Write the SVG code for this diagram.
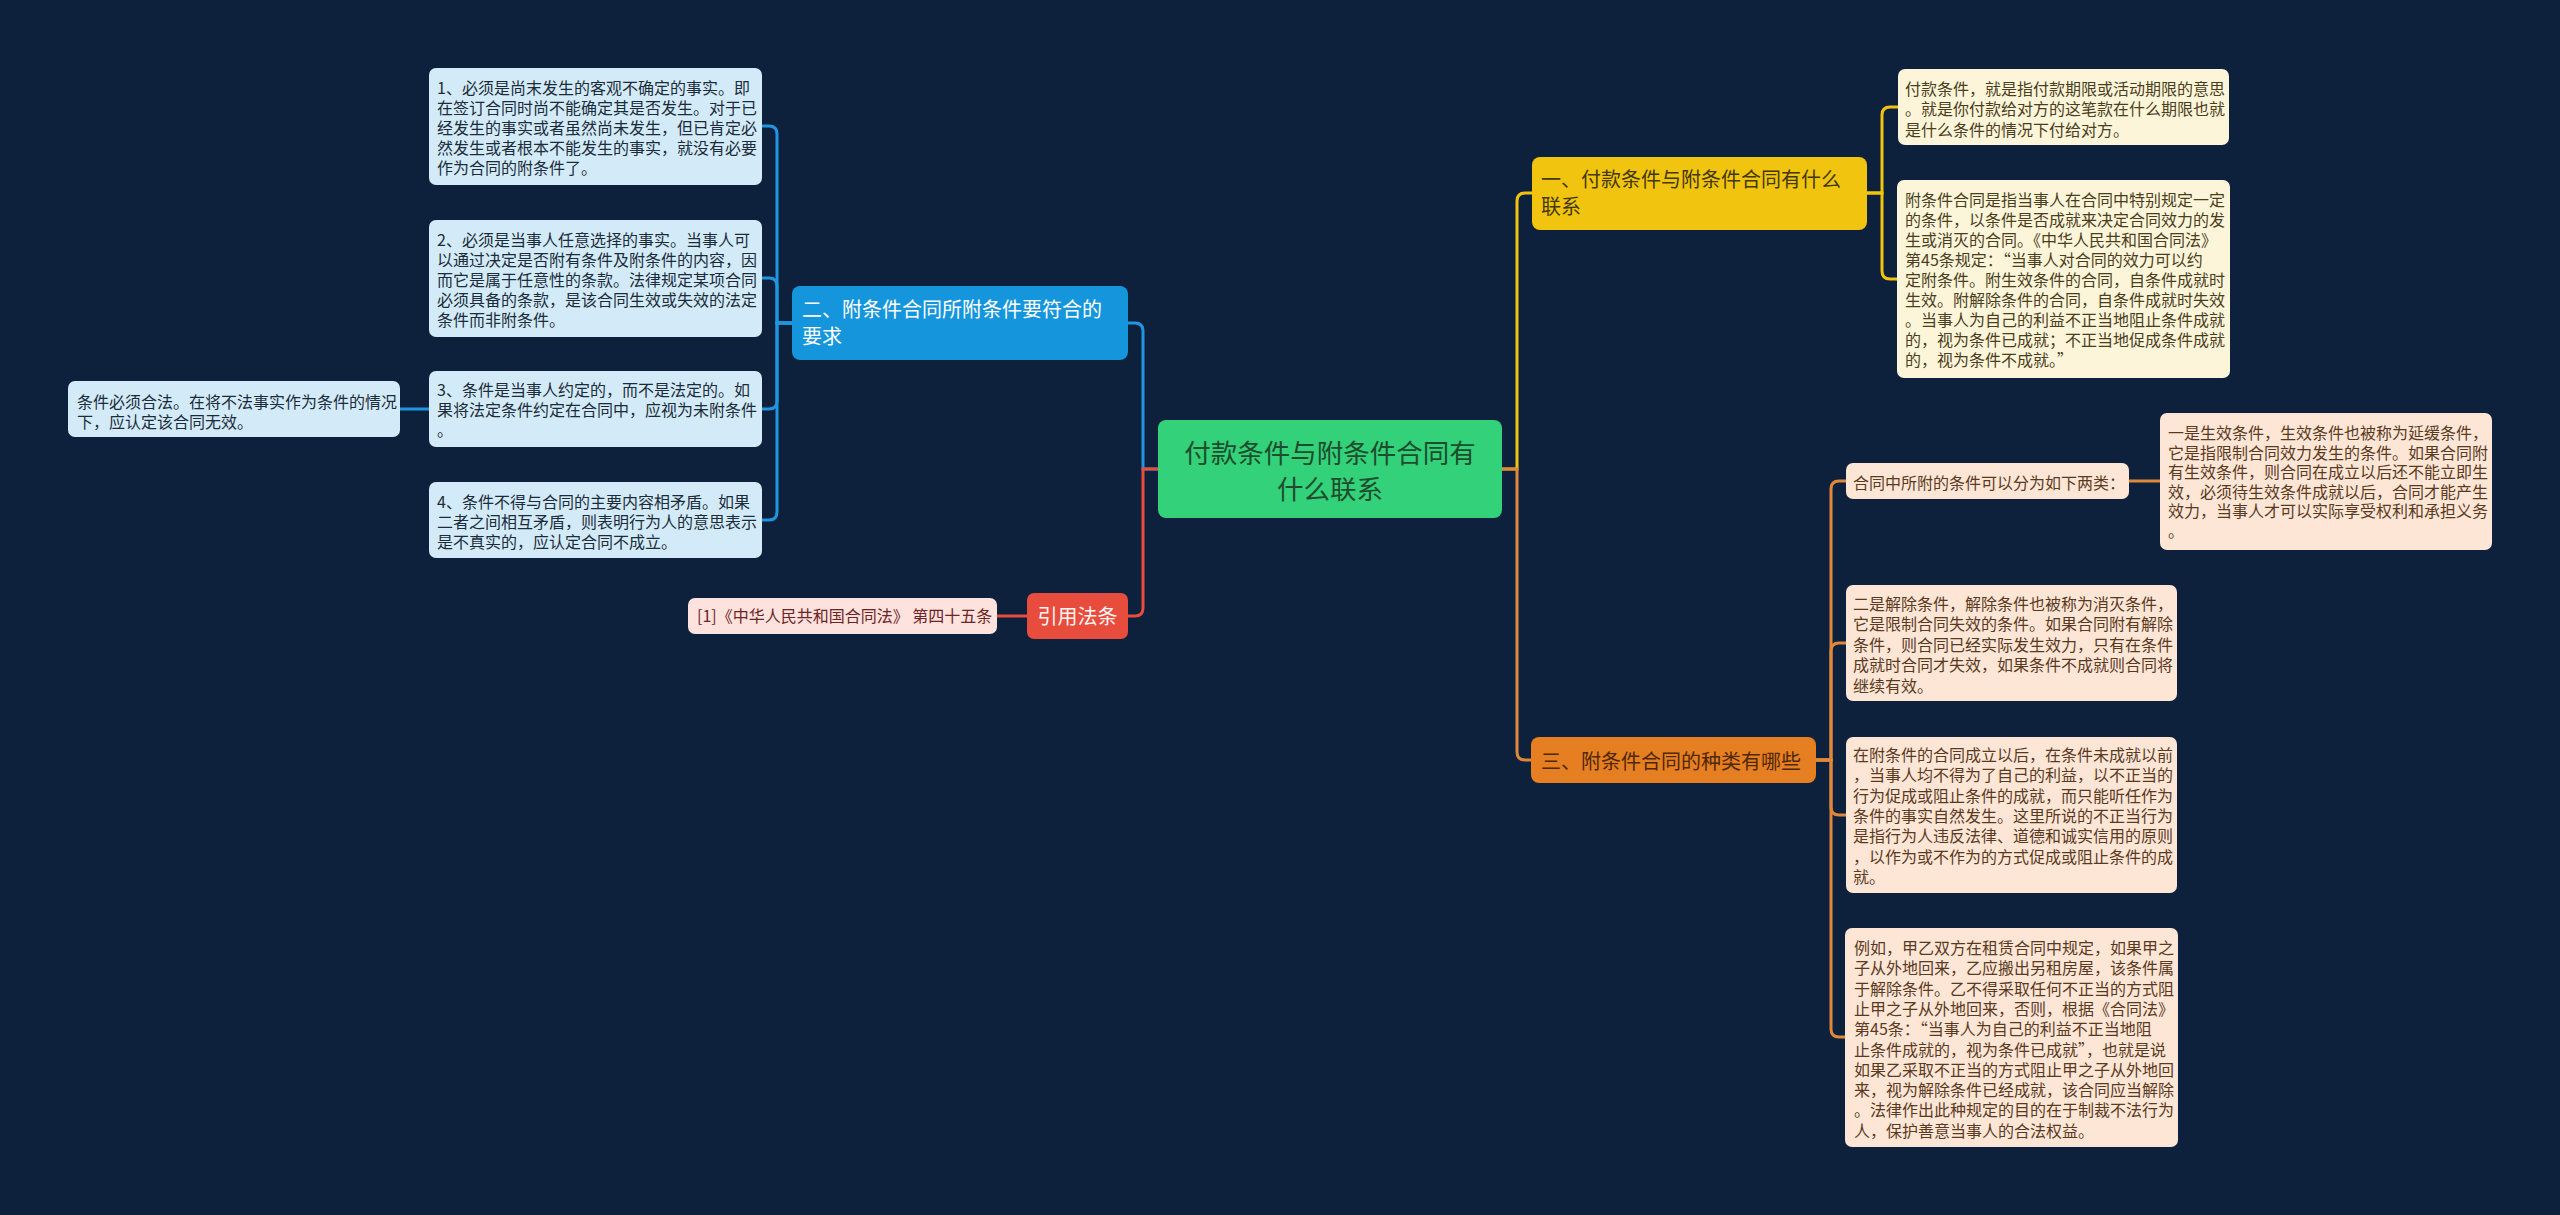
<svg xmlns="http://www.w3.org/2000/svg" width="2560" height="1215" viewBox="0 0 2560 1215">
<style>
text{font-family:"Noto Sans CJK SC","Noto Sans",sans-serif;}
.t16{font-size:16px;}
.cb{fill:#d3ebf8;}
.cy{fill:#fdf5d9;}
.co{fill:#fde6d6;}
.tb{fill:#1c2b3a;}
.ty{fill:#4a3e1c;}
.to{fill:#5a3a1e;}
.lb{fill:none;stroke:#2196e0;stroke-width:3;}
.ly{fill:none;stroke:#f1c40f;stroke-width:3;}
.lo{fill:none;stroke:#e0883a;stroke-width:3;}
.lr{fill:none;stroke:#e74c3c;stroke-width:3;}
</style>
<rect width="2560" height="1215" fill="#0e213c"/>
<g id="connectors">
<path class="lb" d="M1158 469 H1143 V331 Q1143 323 1135 323 H1128"/>
<path class="lr" d="M1158 469 H1143 V608 Q1143 616 1135 616 H1128"/>
<path class="ly" d="M1502 469 H1517 V201 Q1517 193 1525 193 H1532"/>
<path class="lo" d="M1502 469 H1517 V752 Q1517 760 1525 760 H1531"/>
<path class="lb" d="M792 323 H777 V134 Q777 126 769 126 H762"/>
<path class="lb" d="M792 323 H777 V286 Q777 278 769 278 H762"/>
<path class="lb" d="M792 323 H777 V401 Q777 409 769 409 H762"/>
<path class="lb" d="M792 323 H777 V512 Q777 520 769 520 H762"/>
<path class="lb" d="M429 409 H400"/>
<path class="lr" d="M1027 616 H997"/>
<path class="ly" d="M1867 193 H1882 V115 Q1882 107 1890 107 H1898"/>
<path class="ly" d="M1867 193 H1882 V271 Q1882 279 1890 279 H1897"/>
<path class="lo" d="M1816 760 H1831 V489 Q1831 481 1839 481 H1846"/>
<path class="lo" d="M1816 760 H1831 V651 Q1831 643 1839 643 H1846"/>
<path class="lo" d="M1816 760 H1831 V807 Q1831 815 1839 815 H1846"/>
<path class="lo" d="M1816 760 H1831 V1029 Q1831 1037 1839 1037 H1845"/>
<path class="lo" d="M2129 481 H2160"/>
</g>
<g id="center">
<rect x="1158" y="420" width="344" height="98" rx="8" fill="#33d17a"/>
<text x="1330" y="462.5" font-size="26.5" fill="#1d4d2c" text-anchor="middle">付款条件与附条件合同有</text>
<text x="1330" y="498.5" font-size="26.5" fill="#1d4d2c" text-anchor="middle">什么联系</text>
</g>
<g id="n2">
<rect x="792" y="286" width="336" height="74" rx="8" fill="#1596dc"/>
<text x="802" y="317" font-size="20" fill="#ffffff">二、附条件合同所附条件要符合的</text>
<text x="802" y="344" font-size="20" fill="#ffffff">要求</text>
</g>
<g id="n2c1">
<rect class="cb" x="429" y="68" width="333" height="117" rx="7"/>
<text class="t16 tb" x="437"><tspan x="437" y="94">1、必须是尚末发生的客观不确定的事实。即</tspan><tspan x="437" y="114">在签订合同时尚不能确定其是否发生。对于已</tspan><tspan x="437" y="134">经发生的事实或者虽然尚未发生，但已肯定必</tspan><tspan x="437" y="154">然发生或者根本不能发生的事实，就没有必要</tspan><tspan x="437" y="174">作为合同的附条件了。</tspan></text>
</g>
<g id="n2c2">
<rect class="cb" x="429" y="220" width="333" height="117" rx="7"/>
<text class="t16 tb"><tspan x="437" y="246">2、必须是当事人任意选择的事实。当事人可</tspan><tspan x="437" y="266">以通过决定是否附有条件及附条件的内容，因</tspan><tspan x="437" y="286">而它是属于任意性的条款。法律规定某项合同</tspan><tspan x="437" y="306">必须具备的条款，是该合同生效或失效的法定</tspan><tspan x="437" y="326">条件而非附条件。</tspan></text>
</g>
<g id="n2c3">
<rect class="cb" x="429" y="371" width="333" height="76" rx="7"/>
<text class="t16 tb"><tspan x="437" y="396">3、条件是当事人约定的，而不是法定的。如</tspan><tspan x="437" y="416">果将法定条件约定在合同中，应视为未附条件</tspan><tspan x="437" y="436">。</tspan></text>
</g>
<g id="n2c3a">
<rect class="cb" x="68" y="381" width="332" height="56" rx="7"/>
<text class="t16 tb"><tspan x="77" y="408">条件必须合法。在将不法事实作为条件的情况</tspan><tspan x="77" y="428">下，应认定该合同无效。</tspan></text>
</g>
<g id="n2c4">
<rect class="cb" x="429" y="482" width="333" height="76" rx="7"/>
<text class="t16 tb"><tspan x="437" y="508">4、条件不得与合同的主要内容相矛盾。如果</tspan><tspan x="437" y="528">二者之间相互矛盾，则表明行为人的意思表示</tspan><tspan x="437" y="548">是不真实的，应认定合同不成立。</tspan></text>
</g>
<g id="nref">
<rect x="1027" y="593" width="101" height="46" rx="7" fill="#e74c3c"/>
<text x="1077.5" y="624" font-size="20" fill="#fff5f2" text-anchor="middle">引用法条</text>
</g>
<g id="nrefc">
<rect x="688" y="598" width="309" height="36" rx="7" fill="#fde2de"/>
<text class="t16" x="697" y="622" fill="#6e2424">[1]《中华人民共和国合同法》 第四十五条</text>
</g>
<g id="n1">
<rect x="1532" y="157" width="335" height="73" rx="8" fill="#f1c40f"/>
<text x="1541" y="187" font-size="20" fill="#43380c">一、付款条件与附条件合同有什么</text>
<text x="1541" y="214" font-size="20" fill="#43380c">联系</text>
</g>
<g id="n1c1">
<rect class="cy" x="1898" y="69" width="331" height="76" rx="7"/>
<text class="t16 ty"><tspan x="1905" y="94.5">付款条件，就是指付款期限或活动期限的意思</tspan><tspan x="1905" y="115.3">。就是你付款给对方的这笔款在什么期限也就</tspan><tspan x="1905" y="136">是什么条件的情况下付给对方。</tspan></text>
</g>
<g id="n1c2">
<rect class="cy" x="1897" y="180" width="333" height="198" rx="7"/>
<text class="t16 ty"><tspan x="1905" y="206">附条件合同是指当事人在合同中特别规定一定</tspan><tspan x="1905" y="226">的条件，以条件是否成就来决定合同效力的发</tspan><tspan x="1905" y="246">生或消灭的合同。《中华人民共和国合同法》</tspan><tspan x="1905" y="266">第45条规定：“当事人对合同的效力可以约</tspan><tspan x="1905" y="286">定附条件。附生效条件的合同，自条件成就时</tspan><tspan x="1905" y="306">生效。附解除条件的合同，自条件成就时失效</tspan><tspan x="1905" y="326">。当事人为自己的利益不正当地阻止条件成就</tspan><tspan x="1905" y="346">的，视为条件已成就；不正当地促成条件成就</tspan><tspan x="1905" y="366">的，视为条件不成就。”</tspan></text>
</g>
<g id="n3">
<rect x="1531" y="737" width="285" height="46" rx="8" fill="#e67e22"/>
<text x="1541" y="769" font-size="20" fill="#4f2806">三、附条件合同的种类有哪些</text>
</g>
<g id="n3c1">
<rect class="co" x="1846" y="463" width="283" height="36" rx="7"/>
<text class="t16 to" x="1853" y="488.5">合同中所附的条件可以分为如下两类：</text>
</g>
<g id="n3c1a">
<rect class="co" x="2160" y="413" width="332" height="137" rx="7"/>
<text class="t16 to"><tspan x="2168" y="439">一是生效条件，生效条件也被称为延缓条件，</tspan><tspan x="2168" y="458.5">它是指限制合同效力发生的条件。如果合同附</tspan><tspan x="2168" y="478">有生效条件，则合同在成立以后还不能立即生</tspan><tspan x="2168" y="497.5">效，必须待生效条件成就以后，合同才能产生</tspan><tspan x="2168" y="517">效力，当事人才可以实际享受权利和承担义务</tspan><tspan x="2168" y="536.5">。</tspan></text>
</g>
<g id="n3c2">
<rect class="co" x="1846" y="585" width="331" height="116" rx="7"/>
<text class="t16 to"><tspan x="1853" y="609.5">二是解除条件，解除条件也被称为消灭条件，</tspan><tspan x="1853" y="630">它是限制合同失效的条件。如果合同附有解除</tspan><tspan x="1853" y="650.5">条件，则合同已经实际发生效力，只有在条件</tspan><tspan x="1853" y="671">成就时合同才失效，如果条件不成就则合同将</tspan><tspan x="1853" y="691.5">继续有效。</tspan></text>
</g>
<g id="n3c3">
<rect class="co" x="1846" y="737" width="331" height="156" rx="7"/>
<text class="t16 to"><tspan x="1853" y="761">在附条件的合同成立以后，在条件未成就以前</tspan><tspan x="1853" y="781.3">，当事人均不得为了自己的利益，以不正当的</tspan><tspan x="1853" y="801.6">行为促成或阻止条件的成就，而只能听任作为</tspan><tspan x="1853" y="821.9">条件的事实自然发生。这里所说的不正当行为</tspan><tspan x="1853" y="842.2">是指行为人违反法律、道德和诚实信用的原则</tspan><tspan x="1853" y="862.5">，以作为或不作为的方式促成或阻止条件的成</tspan><tspan x="1853" y="882.8">就。</tspan></text>
</g>
<g id="n3c4">
<rect class="co" x="1845" y="928" width="333" height="219" rx="7"/>
<text class="t16 to"><tspan x="1854" y="954">例如，甲乙双方在租赁合同中规定，如果甲之</tspan><tspan x="1854" y="974.3">子从外地回来，乙应搬出另租房屋，该条件属</tspan><tspan x="1854" y="994.6">于解除条件。乙不得采取任何不正当的方式阻</tspan><tspan x="1854" y="1014.9">止甲之子从外地回来，否则，根据《合同法》</tspan><tspan x="1854" y="1035.2">第45条：“当事人为自己的利益不正当地阻</tspan><tspan x="1854" y="1055.5">止条件成就的，视为条件已成就”，也就是说</tspan><tspan x="1854" y="1075.8">如果乙采取不正当的方式阻止甲之子从外地回</tspan><tspan x="1854" y="1096.1">来，视为解除条件已经成就，该合同应当解除</tspan><tspan x="1854" y="1116.4">。法律作出此种规定的目的在于制裁不法行为</tspan><tspan x="1854" y="1136.7">人，保护善意当事人的合法权益。</tspan></text>
</g>
</svg>
